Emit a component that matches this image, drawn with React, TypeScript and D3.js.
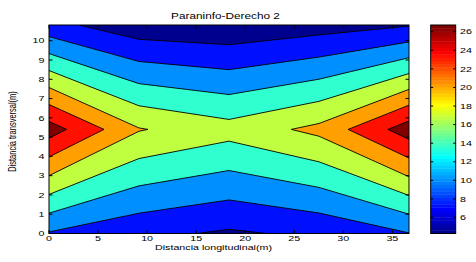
import React from 'react';
import * as d3 from 'd3';

// grid (columns along x, three rows along y)
const xCols = [0, 9.175, 18.35, 27.525, 36.7];
const yRows = [0, 5.4, 10.8];
const zRow0 = [9.75, 7.77, 6.57, 7.6, 9.9];
const zRow1 = [26.4, 19.2, 17.2, 19.8, 26.6];
const zRow2 = [8.0, 5.1, 4.66, 5.7, 6.85];

const levels = [7, 10, 13, 16, 19, 22, 25];
const xTicks = [0, 5, 10, 15, 20, 25, 30, 35];
const yTicks = [0, 1, 2, 3, 4, 5, 6, 7, 8, 9, 10];
const cbTicks = [6, 8, 10, 12, 14, 16, 18, 20, 22, 24, 26];
const colorLimits = [4.28, 26.72];

const title = 'Paraninfo-Derecho 2';
const xLabel = 'Distancia longitudinal(m)';
const yLabel = 'Distancia transversal(m)';

const W = 476;
const H = 262;
const plot = { left: 49, right: 409, top: 25, bottom: 233.5 };
const cb = { left: 430.7, right: 455.7 };
const bandColors = ['#00008f', '#0010ff', '#008fff', '#30ffcf', '#bfff40', '#ffa000', '#ff1000', '#800000'];
const font = '"Liberation Sans", Arial, Helvetica, sans-serif';
const fs = 10.7;
const squash = 0.7;

// matlab jet(64), row k = 1..64
function jetRow(k: number) {
  const u = (j: number) => (j < 1 || j > 47 ? 0 : j <= 16 ? j / 16 : j <= 31 ? 1 : (48 - j) / 16);
  const r = u(k - 24), g = u(k - 8), b = u(k + 8);
  return d3.rgb(r * 255, g * 255, b * 255).formatHex();
}

export default function App() {
  const x = d3.scaleLinear().domain([0, 36.7]).range([plot.left, plot.right]);
  const y = d3.scaleLinear().domain([0, 10.8]).range([plot.bottom, plot.top + 0.3]);
  const gx = d3.scaleLinear().domain(xCols.map((_, i) => i + 0.5)).range(xCols);
  const gy = d3.scaleLinear().domain(yRows.map((_, i) => i + 0.5)).range(yRows);

  const values = [...zRow0, ...zRow1, ...zRow2];
  const bands = d3.contours().size([xCols.length, yRows.length]).thresholds(levels)(values);

  const proj = d3.geoTransform({
    point(px: number, py: number) {
      this.stream.point(x(gx(px)), y(gy(py)));
    },
  });
  const path = d3.geoPath(proj);

  const c = d3.scaleLinear().domain(colorLimits).range([plot.bottom, plot.top]);
  const steps = d3.range(64);
  const stepH = (plot.bottom - plot.top) / 64;

  const tl = 3.5;

  return (
    <svg width={W} height={H} style={{ position: 'absolute', left: 0, top: 0, background: '#fff' }}
      fontFamily={font}>
      <defs>
        <clipPath id="plotClip">
          <rect x={plot.left} y={plot.top} width={plot.right - plot.left} height={plot.bottom - plot.top} />
        </clipPath>
      </defs>

      <g clipPath="url(#plotClip)">
        <rect x={plot.left} y={plot.top} width={plot.right - plot.left} height={plot.bottom - plot.top}
          fill={bandColors[0]} />
        {bands.map((b, i) => (
          <path key={i} d={path(b as any) || ''} fill={bandColors[i + 1]} stroke="#000" strokeWidth={0.9}
            strokeLinejoin="round" />
        ))}
      </g>

      {/* axis box + ticks */}
      <rect x={plot.left} y={plot.top} width={plot.right - plot.left} height={plot.bottom - plot.top}
        fill="none" stroke="#000" strokeWidth={1} />
      {xTicks.map(t => (
        <g key={'x' + t}>
          <line x1={x(t)} x2={x(t)} y1={plot.bottom} y2={plot.bottom - tl} stroke="#000" />
          <line x1={x(t)} x2={x(t)} y1={plot.top} y2={plot.top + tl} stroke="#000" />
          <text x={0} y={0} fontSize={fs} textAnchor="middle"
            transform={`translate(${x(t)},241) scale(1,${squash})`}>{t}</text>
        </g>
      ))}
      {yTicks.map(t => (
        <g key={'y' + t}>
          <line x1={plot.left} x2={plot.left + tl} y1={y(t)} y2={y(t)} stroke="#000" />
          <line x1={plot.right} x2={plot.right - tl} y1={y(t)} y2={y(t)} stroke="#000" />
          <text x={0} y={0} fontSize={fs} textAnchor="end"
            transform={`translate(44.5,${y(t) + 2.7}) scale(1,${squash})`}>{t}</text>
        </g>
      ))}

      <text x={0} y={0} fontSize={11.8} textAnchor="middle"
        transform={`translate(225.5,18.8) scale(1,${squash})`}>{title}</text>
      <text x={0} y={0} fontSize={fs} textAnchor="middle"
        transform={`translate(213.5,249.5) scale(1,${squash})`}>{xLabel}</text>
      <text x={0} y={0} fontSize={fs} textAnchor="middle"
        transform={`translate(15.5,131.5) scale(1,${squash}) rotate(-90)`}>{yLabel}</text>

      {/* colorbar */}
      {steps.map(k => (
        <rect key={k} x={cb.left} y={plot.bottom - (k + 1) * stepH} width={cb.right - cb.left} height={stepH + 0.4}
          fill={jetRow(k + 1)} />
      ))}
      <rect x={cb.left} y={plot.top} width={cb.right - cb.left} height={plot.bottom - plot.top}
        fill="none" stroke="#000" strokeWidth={1} />
      {cbTicks.map(t => (
        <g key={'c' + t}>
          <line x1={cb.left} x2={cb.left + 2.5} y1={c(t)} y2={c(t)} stroke="#000" />
          <line x1={cb.right} x2={cb.right - 2.5} y1={c(t)} y2={c(t)} stroke="#000" />
          <text x={0} y={0} fontSize={fs}
            transform={`translate(460,${c(t) + 2.7}) scale(1,${squash})`}>{t}</text>
        </g>
      ))}
    </svg>
  );
}
